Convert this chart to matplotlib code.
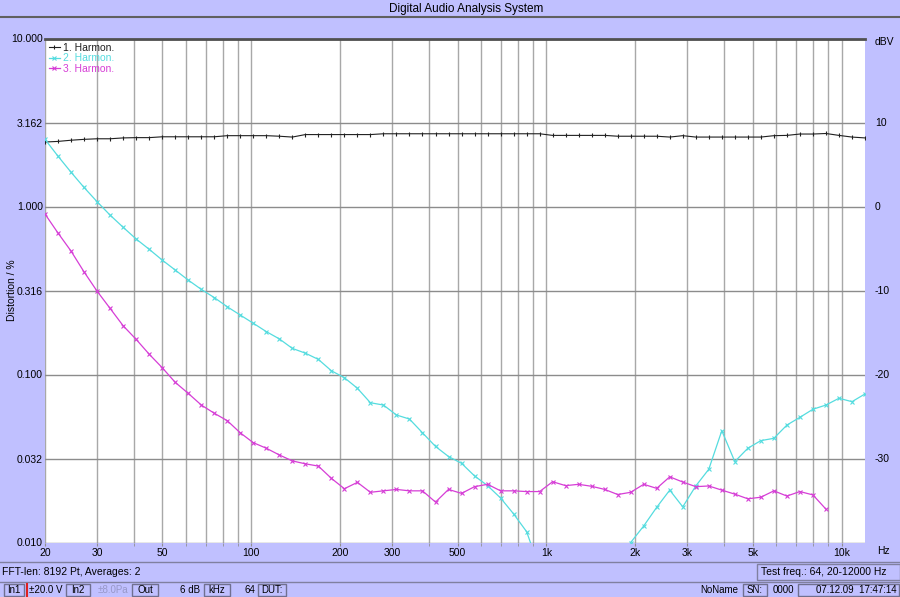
import numpy as np
import matplotlib.pyplot as plt
from matplotlib.patches import Rectangle
from matplotlib.lines import Line2D
from matplotlib.ticker import NullLocator

plt.rcParams['font.family'] = ['Liberation Sans', 'DejaVu Sans']

# test frequencies (64 points, 20-12000 Hz)
freq = [20.0, 22.1, 24.5, 27.1, 30.0, 33.2, 36.8, 40.7, 45.1, 49.9,
        55.2, 61.1, 67.7, 74.9, 82.9, 91.7, 101.5, 112.4, 124.4, 137.7,
        152.4, 168.7, 186.7, 206.7, 228.8, 253.2, 280.3, 310.3, 343.4, 380.1,
        420.8, 465.7, 515.5, 570.6, 631.6, 699.1, 773.8, 856.5, 948.0, 1049,
        1161, 1285, 1423, 1575, 1743, 1929, 2135, 2363, 2616, 2896,
        3205, 3548, 3927, 4346, 4811, 5325, 5894, 6524, 7221, 7993,
        8847, 9795, 10840, 12000]

# 1. Harmon. (fundamental level, %)
harm1 = [2.42, 2.44, 2.48, 2.51, 2.53, 2.53, 2.56, 2.57, 2.57, 2.60,
         2.60, 2.60, 2.60, 2.60, 2.64, 2.64, 2.64, 2.64, 2.62, 2.59,
         2.68, 2.68, 2.68, 2.68, 2.68, 2.68, 2.71, 2.71, 2.71, 2.71,
         2.71, 2.71, 2.71, 2.71, 2.71, 2.71, 2.71, 2.71, 2.71, 2.65,
         2.65, 2.65, 2.65, 2.65, 2.62, 2.62, 2.62, 2.62, 2.59, 2.64,
         2.59, 2.59, 2.59, 2.59, 2.59, 2.59, 2.64, 2.65, 2.70, 2.70,
         2.72, 2.65, 2.59, 2.56]

# 2. Harmon.
harm2 = [2.51, 2.00, 1.60, 1.30, 1.07, 0.890, 0.752, 0.641, 0.556, 0.480,
         0.419, 0.365, 0.321, 0.287, 0.253, 0.226, 0.202, 0.180, 0.163, 0.143,
         0.134, 0.123, 0.1053, 0.0957, 0.0828, 0.0679, 0.0658, 0.0574, 0.0543, 0.0450,
         0.0373, 0.0325, 0.0296, 0.0249, 0.0218, 0.0184, 0.0148, 0.0116, 0.0070, 0.0060,
         0.0060, 0.0060, 0.0060, 0.0060, 0.0070, 0.0100, 0.01254, 0.0162, 0.0205, 0.0163,
         0.0217, 0.0273, 0.0463, 0.0303, 0.0364, 0.0404, 0.0417, 0.0500, 0.0556, 0.0621,
         0.0658, 0.0722, 0.0689, 0.0766]

# 3. Harmon.
harm3 = [0.902, 0.698, 0.543, 0.409, 0.314, 0.248, 0.195, 0.162, 0.132, 0.1098,
         0.0899, 0.0773, 0.0658, 0.0588, 0.0531, 0.0450, 0.0393, 0.0364, 0.0332, 0.0306,
         0.0294, 0.0285, 0.0241, 0.0209, 0.0228, 0.0199, 0.0203, 0.0207, 0.0203, 0.0203,
         0.0174, 0.0207, 0.0196, 0.0215, 0.0222, 0.0203, 0.0203, 0.0201, 0.0201, 0.0230,
         0.0218, 0.0222, 0.0216, 0.0207, 0.0193, 0.0199, 0.0222, 0.0210, 0.0246, 0.0229,
         0.0215, 0.0217, 0.0205, 0.0194, 0.0182, 0.0186, 0.0203, 0.0189, 0.0201, 0.0192,
         0.0158, np.nan, np.nan, np.nan]

xticks = [20, 30, 50, 100, 200, 300, 500, 1000, 2000, 3000, 5000, 10000]
xlabels = ['20', '30', '50', '100', '200', '300', '500', '1k', '2k', '3k', '5k', '10k']
xminor = [40, 60, 70, 80, 90, 400, 600, 700, 800, 900,
          4000, 6000, 7000, 8000, 9000]
yticks = [0.01, 0.0316, 0.1, 0.3162, 1.0, 3.162, 10.0]
ylabels = ['0.010', '0.032', '0.100', '0.316', '1.000', '3.162', '10.000']
dbv_ticks = [-30, -20, -10, 0, 10]

BG = '#C0C0FF'
W, H = 900, 597


def fx(px):
    return px / W


def fy(py):
    return 1 - py / H


fig = plt.figure(figsize=(9, 5.97), dpi=100, facecolor=BG)
ax = fig.add_axes([fx(45), fy(542.5), fx(865) - fx(45), fy(38.5) - fy(542.5)])
ax.set_facecolor('white')

ax.plot(freq, harm1, color='#202020', lw=0.8, marker='|', ms=3.5, mew=0.8,
        label='1. Harmon.')
ax.plot(freq, harm2, color='#55DCDF', lw=0.9, marker='x', ms=2.5, mew=0.8,
        label='2. Harmon.')
ax.plot(freq, harm3, color='#D63ED6', lw=0.9, marker='x', ms=2.5, mew=0.8,
        label='3. Harmon.')

ax.set_xscale('log')
ax.set_yscale('log')
ax.set_xlim(20, 12000)
ax.set_ylim(0.01, 10)

ax.set_xticks(xticks)
ax.set_xticklabels(xlabels)
ax.set_xticks(xminor, minor=True)
ax.set_yticks(yticks)
ax.set_yticklabels(ylabels)
ax.yaxis.set_minor_locator(NullLocator())

ax.grid(True, which='major', axis='y', color='#8C8C8C', lw=1.0)
ax.grid(True, which='both', axis='x', color='#A8A8A8', lw=1.0)
ax.set_axisbelow(True)

ax.tick_params(axis='x', which='both', direction='out', length=2.5,
               color='#909090', pad=1.5, labelsize=7.5)
ax.tick_params(axis='y', length=0, pad=1.5, labelsize=7.5)

for s in ['left', 'right', 'bottom']:
    ax.spines[s].set_visible(False)
ax.spines['top'].set_color('#505050')
ax.spines['top'].set_linewidth(2)

# right dBV axis
ax2 = ax.twinx()
ax2.set_ylim(-40, 20)
ax2.set_yticks(dbv_ticks)
ax2.set_yticklabels([str(v) for v in dbv_ticks])
ax2.tick_params(axis='y', length=0, pad=7, labelsize=7.5)
for s in ax2.spines.values():
    s.set_visible(False)

ax.legend(loc='upper left', frameon=False, fontsize=7.5, handlelength=1.0,
          handletextpad=0.3, labelspacing=0.05, borderaxespad=0.2,
          borderpad=0.2, numpoints=1, labelcolor='linecolor')

# window decoration
fig.text(fx(12), fy(290), 'Distortion / %', rotation=90, ha='center',
         va='center', fontsize=7.5)
fig.text(fx(466), fy(9), 'Digital Audio Analysis System', ha='center',
         va='center', fontsize=8.5)
fig.add_artist(Line2D([0, 1], [fy(16.5), fy(16.5)], color='#606060', lw=1.5))
fig.text(fx(875), fy(42), 'dBV', ha='left', va='center', fontsize=7.5)
fig.text(fx(877), fy(551), 'Hz', ha='left', va='center', fontsize=7.5)

# status bars
fig.add_artist(Line2D([0, 1], [fy(562), fy(562)], color='#8080A0', lw=1))
fig.add_artist(Line2D([0, 1], [fy(581.5), fy(581.5)], color='#8080A0', lw=1))
fig.text(fx(2), fy(572), 'FFT-len: 8192 Pt, Averages: 2', ha='left',
         va='center', fontsize=7.5)
fig.add_artist(Rectangle((fx(757), fy(580)), fx(900) - fx(757), fy(564) - fy(580),
                         transform=fig.transFigure, fill=False,
                         edgecolor='#8080A0', lw=1))
fig.text(fx(761), fy(572), 'Test freq.: 64, 20-12000 Hz', ha='left',
         va='center', fontsize=7.5)

row_y = 590
boxes = [(4, 24, 'In1'), (66, 90, 'In2'), (132, 158, 'Out'), (204, 230, 'kHz'),
         (258, 286, 'DUT:'), (743, 767, 'SN:'), (798, 899, '')]
for x0, x1, label in boxes:
    fig.add_artist(Rectangle((fx(x0), fy(596)), fx(x1) - fx(x0), fy(584) - fy(596),
                             transform=fig.transFigure, fill=False,
                             edgecolor='#707090', lw=1))
    if label:
        fig.text(fx((x0 + x1) / 2), fy(row_y), label, ha='center', va='center',
                 fontsize=7)
fig.add_artist(Line2D([fx(27), fx(27)], [fy(584), fy(596)], color='#E02020',
                      lw=1.5))
fig.text(fx(29), fy(row_y), '±20.0 V', ha='left', va='center', fontsize=7)
fig.text(fx(98), fy(row_y), '±8.0Pa', ha='left', va='center', fontsize=7,
         color='#9898C8')
fig.text(fx(200), fy(row_y), '6 dB', ha='right', va='center', fontsize=7)
fig.text(fx(255), fy(row_y), '64', ha='right', va='center', fontsize=7)
fig.text(fx(738), fy(row_y), 'NoName', ha='right', va='center', fontsize=7)
fig.text(fx(794), fy(row_y), '0000', ha='right', va='center', fontsize=7)
fig.text(fx(897), fy(row_y), '07.12.09  17:47:14', ha='right', va='center',
         fontsize=7)

fig.savefig('out.png', dpi=100, facecolor=BG)
